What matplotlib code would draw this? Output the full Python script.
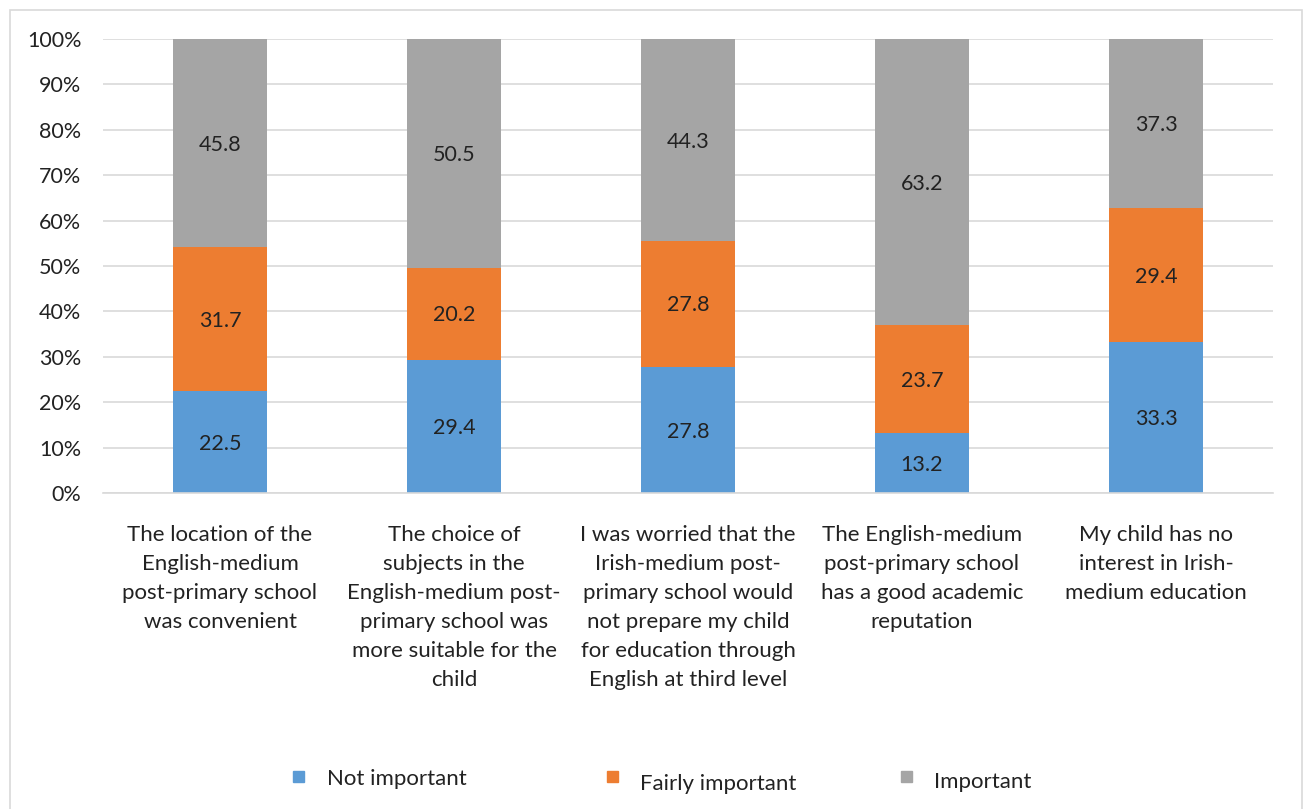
import matplotlib.pyplot as plt
from matplotlib.patches import Rectangle
import numpy as np

plt.rcParams['font.family'] = ['Lato', 'DejaVu Sans']

categories = [
    "The location of the\nEnglish-medium\npost-primary school\nwas convenient",
    "The choice of\nsubjects in the\nEnglish-medium post-\nprimary school was\nmore suitable for the\nchild",
    "I was worried that the\nIrish-medium post-\nprimary school would\nnot prepare my child\nfor education through\nEnglish at third level",
    "The English-medium\npost-primary school\nhas a good academic\nreputation",
    "My child has no\ninterest in Irish-\nmedium education",
]
not_important = [22.5, 29.4, 27.8, 13.2, 33.3]
fairly_important = [31.7, 20.2, 27.8, 23.7, 29.4]
important = [45.8, 50.5, 44.3, 63.2, 37.3]

series = [
    ("Not important", not_important, "#5B9BD5"),
    ("Fairly important", fairly_important, "#ED7D31"),
    ("Important", important, "#A5A5A5"),
]

W, H = 1306, 809
fig = plt.figure(figsize=(W / 100, H / 100), dpi=100)
ax = fig.add_axes([103 / W, 1 - 493 / H, (1273 - 103) / W, (493 - 39) / H])

x = np.arange(len(categories))
bottom = np.zeros(len(categories))
for name, vals, color in series:
    vals = np.array(vals)
    ax.bar(x, vals, 0.4, bottom=bottom, color=color, zorder=2)
    for xi, b, v in zip(x, bottom, vals):
        ax.text(xi, b + v / 2 - 0.4, f"{v:.1f}", ha="center", va="center",
                fontsize=15.5, color="#222222", zorder=3)
    bottom += vals

ax.set_xlim(-0.5, len(categories) - 0.5)
ax.set_ylim(0, 100)
ax.set_yticks(np.arange(0, 101, 10))
ax.set_yticklabels([f"{t}%" for t in range(0, 101, 10)])
ax.yaxis.grid(True, color="#D9D9D9", linewidth=1.2, zorder=0)
ax.set_xticks([])
for s in ["top", "right", "left"]:
    ax.spines[s].set_visible(False)
ax.spines["bottom"].set_color("#D9D9D9")
ax.spines["bottom"].set_linewidth(1.2)
ax.tick_params(axis="y", length=0, pad=15.5, labelsize=15.5, labelcolor="#222222")

for xi, label in zip(x, categories):
    ax.text(xi, -7.0, label, ha="center", va="top", fontsize=16,
            color="#222222", linespacing=1.57, transform=ax.transData)

# legend drawn as squares and labels along the bottom
legend_items = [(293, 327, 779), (607, 640, 784), (901, 934, 782)]
for (sq_x, tx, ty), (name, _, color) in zip(legend_items, series):
    fig.patches.append(Rectangle((sq_x / W, 1 - 782 / H), 11 / W, 11 / H,
                                 transform=fig.transFigure, color=color))
    fig.text(tx / W, 1 - ty / H, name, ha="left", va="center",
             fontsize=16, color="#222222")

# outer frame
fig.patches.append(Rectangle((10 / W, -0.01), (1302 - 10) / W, 1 - 10 / H + 0.01,
                             transform=fig.transFigure, fill=False,
                             edgecolor="#D9D9D9", linewidth=1.2))

fig.savefig("out.png", dpi=100)
